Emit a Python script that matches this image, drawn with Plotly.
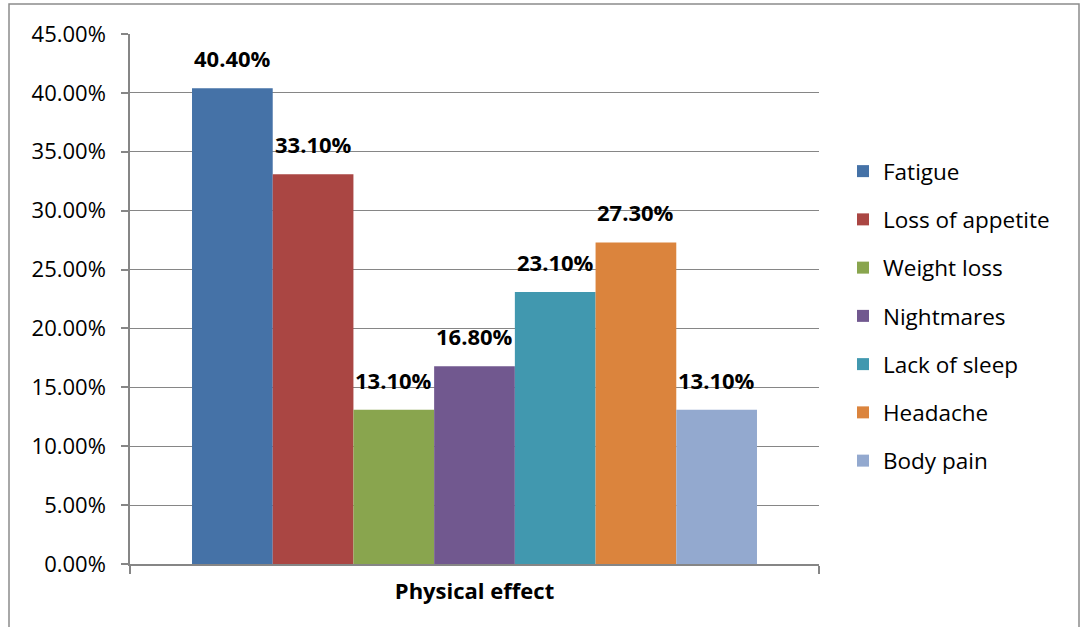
import plotly.graph_objects as go

category = ["Physical effect"]
effects = ["Fatigue", "Loss of appetite", "Weight loss", "Nightmares",
           "Lack of sleep", "Headache", "Body pain"]
shares = [0.404, 0.331, 0.131, 0.168, 0.231, 0.273, 0.131]
colors = ["#4572A7", "#AA4643", "#89A54E", "#71588F",
          "#4198AF", "#DB843D", "#93A9CF"]
y_ticks = [i * 0.05 for i in range(10)]

W, H = 1081, 627
M_L, M_R, M_T, M_B = 130, 262, 34, 63
BARGAP = 0.18
FONT = "'Open Sans', Lato, Arial, sans-serif"
GRID = "#868686"

fig = go.Figure()
for name, val, col in zip(effects, shares, colors):
    fig.add_trace(go.Bar(
        x=category, y=[val], name=name, legendgroup=name,
        marker=dict(color=col, line=dict(width=0)),
        hoverinfo="skip",
    ))

# value labels above each bar of the group
plot_w = W - M_L - M_R
bar_w = plot_w * (1 - BARGAP) / len(effects)
for i, val in enumerate(shares):
    fig.add_annotation(
        x=category[0], y=val, xref="x", yref="y",
        text=f"<b>{val * 100:.2f}%</b>", showarrow=False,
        xshift=(i - (len(effects) - 1) / 2) * bar_w,
        yanchor="bottom", yshift=13,
        font=dict(family=FONT, size=22, color="#000000"),
    )

# outer chart frame
fig.add_shape(
    type="rect", xref="paper", yref="paper", layer="above",
    x0=(9 - M_L) / plot_w, x1=(1079 - M_L) / plot_w,
    y0=(H - M_B - 640) / (H - M_T - M_B), y1=(H - M_B - 4) / (H - M_T - M_B),
    line=dict(color="#8C8C8C", width=1.5), fillcolor="rgba(0,0,0,0)",
)

fig.update_layout(
    width=W, height=H,
    margin=dict(l=M_L, r=M_R, t=M_T, b=M_B, pad=0),
    paper_bgcolor="white", plot_bgcolor="white",
    barmode="group", bargap=BARGAP, bargroupgap=0,
    font=dict(family=FONT, size=22, color="#000000"),
    showlegend=True,
    legend=dict(
        x=(843 - M_L) / plot_w, xanchor="left",
        y=(H - M_B - 316) / (H - M_T - M_B), yanchor="middle",
        tracegroupgap=16, font=dict(family=FONT, size=22.5),
        bgcolor="rgba(0,0,0,0)", itemclick=False,
    ),
    xaxis=dict(
        type="category", tickson="boundaries", ticks="outside", ticklen=8,
        tickcolor=GRID, tickwidth=1.5,
        showline=True, linecolor=GRID, linewidth=1.5,
        showgrid=False, mirror=False,
        tickfont=dict(family=FONT, size=22, weight="bold"),
        ticklabelstandoff=7,
    ),
    yaxis=dict(
        range=[0, 0.45], tickvals=y_ticks, tickformat=".2%",
        ticks="outside", ticklen=7, tickcolor=GRID, tickwidth=1.5,
        showline=True, linecolor=GRID, linewidth=1.5,
        showgrid=True, gridcolor=GRID, gridwidth=1,
        zeroline=False, ticklabelstandoff=11,
        tickfont=dict(family=FONT, size=22),
    ),
)

fig.write_html("out.html")
